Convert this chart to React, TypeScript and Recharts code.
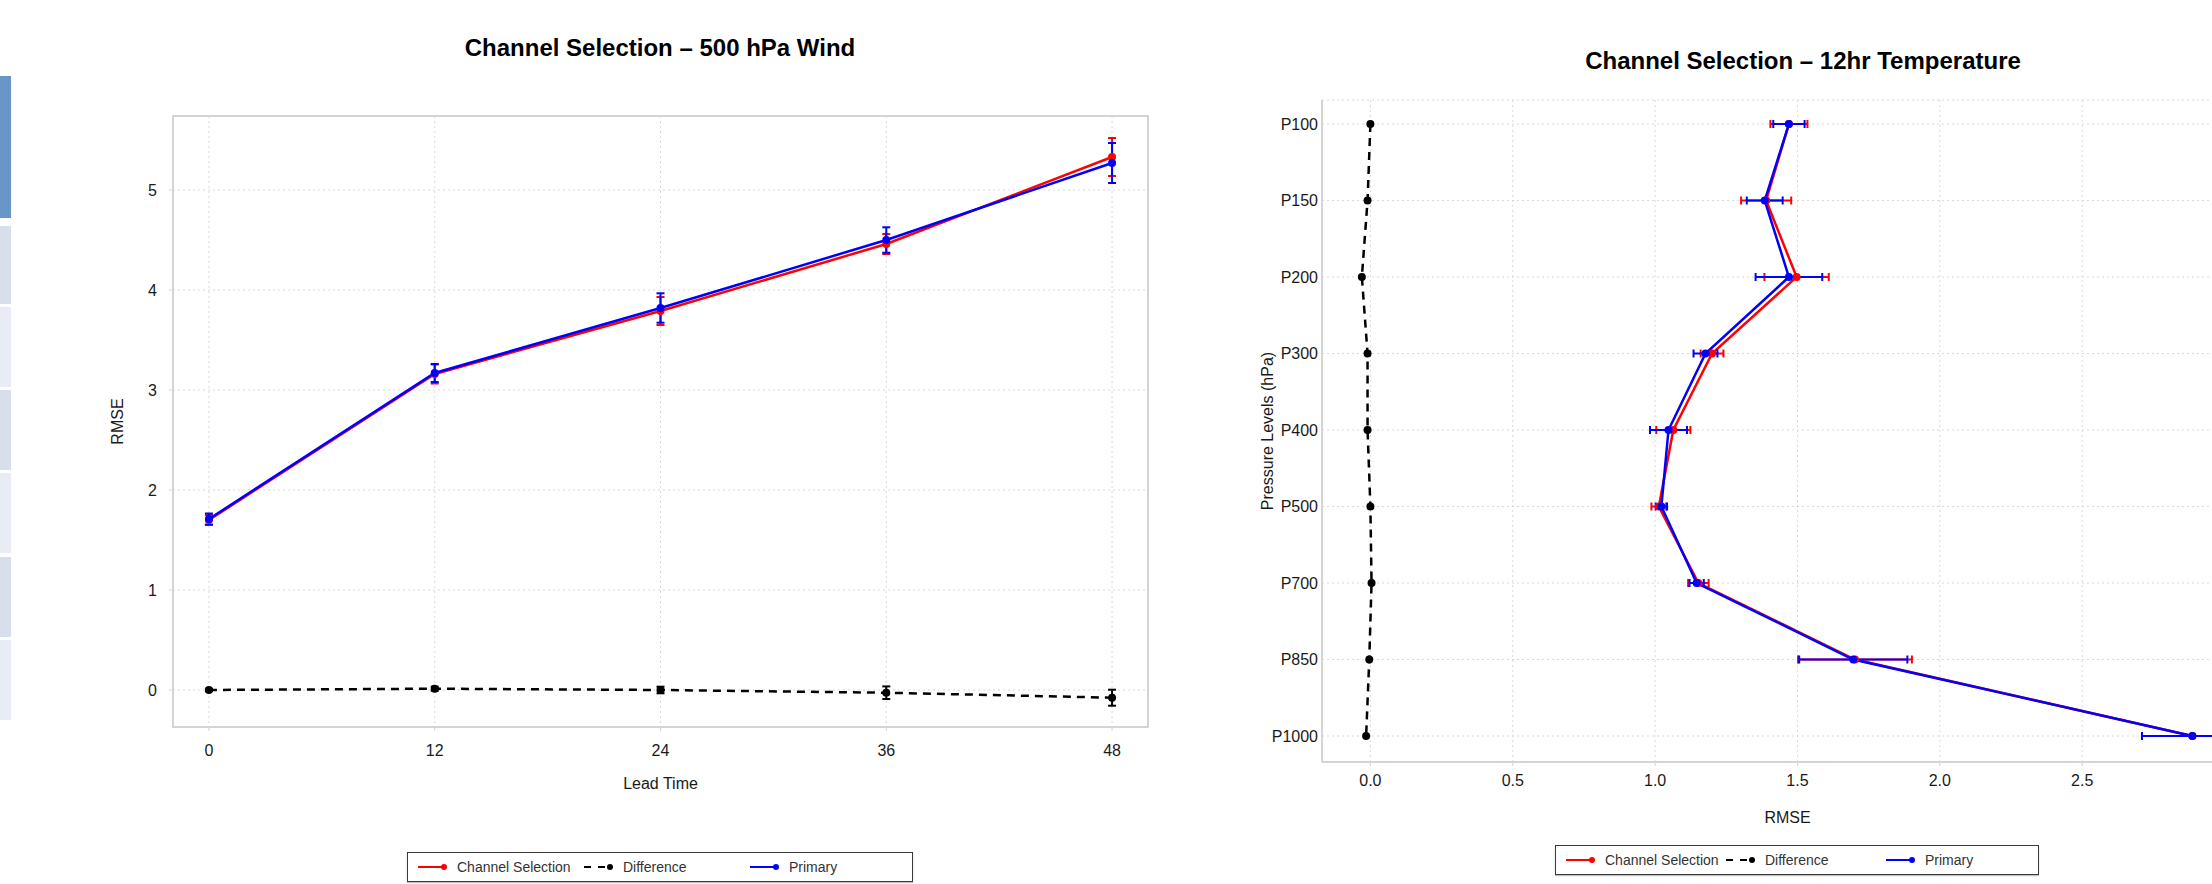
import React from 'react';
import { LineChart, Line, XAxis, YAxis, CartesianGrid, ErrorBar, ReferenceArea, Label } from 'recharts';

const FONT = '"Liberation Sans", Arial, Helvetica, sans-serif';
const RED = '#ff0000';
const BLUE = '#0000ff';
const BLACK = '#000000';
const FRAME = '#d4d4d4';
const GRID = '#d9d9d9';

// left panel: 500 hPa wind by lead time
const leadTimes = [0, 12, 24, 36, 48];
const windChannel = [1.7, 3.16, 3.79, 4.46, 5.33];
const windChannelErr = [0.05, 0.095, 0.14, 0.1, 0.19];
const windPrimary = [1.71, 3.17, 3.82, 4.5, 5.27];
const windPrimaryErr = [0.055, 0.09, 0.147, 0.127, 0.2];
const windDiff = [0.0, 0.013, 0.0, -0.027, -0.077];
const windDiffErr = [0.012, 0.02, 0.033, 0.063, 0.08];
const windYTicks = [0, 1, 2, 3, 4, 5];
const windXDomain = [-1.91, 49.91];
const windYDomain = [-0.37, 5.74];

// right panel: 12hr temperature by pressure level
const levels = ['P100', 'P150', 'P200', 'P300', 'P400', 'P500', 'P700', 'P850', 'P1000'];
const tempChannel = [1.47, 1.39, 1.497, 1.2, 1.064, 1.013, 1.152, 1.702, 2.887];
const tempChannelErr = [0.065, 0.088, 0.113, 0.04, 0.06, 0.026, 0.036, 0.2, 0.177];
const tempPrimary = [1.47, 1.385, 1.47, 1.177, 1.047, 1.022, 1.146, 1.696, 2.887];
const tempPrimaryErr = [0.055, 0.063, 0.117, 0.042, 0.065, 0.02, 0.025, 0.19, 0.177];
const tempDiff = [0.0, -0.01, -0.03, -0.01, -0.01, 0.0, 0.004, -0.004, -0.015];
const tempXTicks = [0, 0.5, 1, 1.5, 2, 2.5];
const tempXDomain = [-0.17, 3.1];

const legendItems = [
  { name: 'Channel Selection', color: RED, dash: undefined as string | undefined },
  { name: 'Difference', color: BLACK, dash: '7 7' },
  { name: 'Primary', color: BLUE, dash: undefined as string | undefined },
];

const sidebarBlocks = [
  { top: 76, height: 142, color: '#6896c8' },
  { top: 226, height: 78, color: '#d9deed' },
  { top: 307, height: 80, color: '#e9ecf4' },
  { top: 390, height: 80, color: '#d9deed' },
  { top: 473, height: 80, color: '#e9ecf4' },
  { top: 557, height: 80, color: '#d9deed' },
  { top: 640, height: 80, color: '#e9ecf4' },
];

const windData = leadTimes.map((lead, i) => ({
  lead,
  cs: windChannel[i],
  csErr: windChannelErr[i],
  diff: windDiff[i],
  diffErr: windDiffErr[i],
  primary: windPrimary[i],
  primaryErr: windPrimaryErr[i],
}));

const tempData = levels.map((level, i) => ({
  level,
  cs: tempChannel[i],
  csErr: tempChannelErr[i],
  diff: tempDiff[i],
  primary: tempPrimary[i],
  primaryErr: tempPrimaryErr[i],
}));

const tickStyle = { fill: '#1a1a1a', fontSize: 16, fontFamily: FONT };
const labelStyle = { fill: '#1a1a1a', fontSize: 16, fontFamily: FONT, textAnchor: 'middle' as const };

const LegendBox = ({ left, top, width, col }: { left: number; top: number; width: number; col: number }) => (
  <div
    style={{
      position: 'absolute',
      left,
      top,
      width,
      height: 30,
      boxSizing: 'border-box',
      border: '1.5px solid #3a3a3a',
      boxShadow: '0 1px 1px rgba(0,0,0,0.25)',
      background: '#fff',
      fontFamily: FONT,
      fontSize: 14,
      color: '#333',
    }}
  >
    {legendItems.map((it, i) => (
      <div
        key={it.name}
        style={{ position: 'absolute', left: 10 + i * col, top: 0, height: 27, display: 'flex', alignItems: 'center' }}
      >
        <svg width={30} height={10} style={{ marginRight: 9 }}>
          <line x1={0} y1={5} x2={26} y2={5} stroke={it.color} strokeWidth={2} strokeDasharray={it.dash} />
          <circle cx={26} cy={5} r={3} fill={it.color} />
        </svg>
        <span>{it.name}</span>
      </div>
    ))}
  </div>
);

const Title = ({ text, cx, top }: { text: string; cx: number; top: number }) => (
  <div
    style={{
      position: 'absolute',
      left: cx - 300,
      width: 600,
      top,
      textAlign: 'center',
      fontFamily: FONT,
      fontWeight: 700,
      fontSize: 24,
      lineHeight: '24px',
      color: '#000',
    }}
  >
    {text}
  </div>
);

const WindChart = () => (
  <div style={{ position: 'absolute', left: 0, top: 0 }}>
    <LineChart width={1200} height={884} data={windData} margin={{ top: 116, right: 52, bottom: 117, left: 103 }}>
      <CartesianGrid stroke={GRID} strokeDasharray="2 3" />
      <ReferenceArea x1={windXDomain[0]} x2={windXDomain[1]} fill="none" stroke={FRAME} strokeWidth={2} />
      <XAxis
        type="number"
        dataKey="lead"
        domain={windXDomain}
        ticks={leadTimes}
        allowDataOverflow
        height={40}
        tickSize={4}
        tickMargin={14}
        tick={tickStyle}
        axisLine={{ stroke: FRAME, strokeWidth: 2 }}
        tickLine={{ stroke: FRAME }}
      >
        <Label value="Lead Time" position="bottom" offset={11} style={labelStyle} />
      </XAxis>
      <YAxis
        type="number"
        domain={windYDomain}
        ticks={windYTicks}
        allowDataOverflow
        width={70}
        tickSize={4}
        tickMargin={12}
        tick={tickStyle}
        axisLine={{ stroke: FRAME, strokeWidth: 2 }}
        tickLine={{ stroke: FRAME }}
      >
        <Label value="RMSE" angle={-90} position="insideLeft" offset={14} style={labelStyle} />
      </YAxis>
      <Line
        dataKey="cs"
        stroke={RED}
        strokeWidth={2.5}
        dot={{ r: 4, fill: RED, stroke: RED, strokeWidth: 0 }}
        isAnimationActive={false}
      >
        <ErrorBar dataKey="csErr" direction="y" stroke={RED} strokeWidth={2} width={4} />
      </Line>
      <Line
        dataKey="diff"
        stroke={BLACK}
        strokeWidth={2.5}
        strokeDasharray="8 6"
        dot={{ r: 4, fill: BLACK, stroke: BLACK, strokeWidth: 0 }}
        isAnimationActive={false}
      >
        <ErrorBar dataKey="diffErr" direction="y" stroke={BLACK} strokeWidth={2} width={4} />
      </Line>
      <Line
        dataKey="primary"
        stroke={BLUE}
        strokeWidth={2.5}
        dot={{ r: 4, fill: BLUE, stroke: BLUE, strokeWidth: 0 }}
        isAnimationActive={false}
      >
        <ErrorBar dataKey="primaryErr" direction="y" stroke={BLUE} strokeWidth={2} width={4} />
      </Line>
    </LineChart>
  </div>
);

const TempChart = () => (
  <div style={{ position: 'absolute', left: 1210, top: 0 }}>
    <LineChart
      width={1100}
      height={884}
      data={tempData}
      layout="vertical"
      margin={{ top: 100, right: 57, bottom: 82, left: 32 }}
    >
      <CartesianGrid stroke={GRID} strokeDasharray="2 3" />
      <XAxis
        type="number"
        domain={tempXDomain}
        ticks={tempXTicks}
        allowDataOverflow
        height={40}
        tickSize={4}
        tickMargin={9}
        tick={tickStyle}
        tickFormatter={(v: number) => v.toFixed(1)}
        axisLine={{ stroke: FRAME, strokeWidth: 2 }}
        tickLine={{ stroke: FRAME }}
      >
        <Label value="RMSE" position="bottom" offset={10} style={labelStyle} />
      </XAxis>
      {/* top edge of the frame */}
      <XAxis
        xAxisId="top"
        orientation="top"
        type="number"
        domain={tempXDomain}
        allowDataOverflow
        height={0}
        tick={false}
        tickLine={false}
        axisLine={{ stroke: FRAME, strokeWidth: 2 }}
      />
      <YAxis
        type="category"
        dataKey="level"
        width={80}
        padding={{ top: 24, bottom: 26 }}
        tickSize={0}
        tickMargin={4}
        tick={tickStyle}
        axisLine={{ stroke: FRAME, strokeWidth: 2 }}
        tickLine={false}
      >
        <Label value="Pressure Levels (hPa)" angle={-90} position="insideLeft" offset={25} style={labelStyle} />
      </YAxis>
      <Line
        dataKey="cs"
        stroke={RED}
        strokeWidth={2.5}
        dot={{ r: 4, fill: RED, stroke: RED, strokeWidth: 0 }}
        isAnimationActive={false}
      >
        <ErrorBar dataKey="csErr" direction="x" stroke={RED} strokeWidth={2} width={4} />
      </Line>
      <Line
        dataKey="diff"
        stroke={BLACK}
        strokeWidth={2.5}
        strokeDasharray="8 6"
        dot={{ r: 4, fill: BLACK, stroke: BLACK, strokeWidth: 0 }}
        isAnimationActive={false}
      />
      <Line
        dataKey="primary"
        stroke={BLUE}
        strokeWidth={2.5}
        dot={{ r: 4, fill: BLUE, stroke: BLUE, strokeWidth: 0 }}
        isAnimationActive={false}
      >
        <ErrorBar dataKey="primaryErr" direction="x" stroke={BLUE} strokeWidth={2} width={4} />
      </Line>
    </LineChart>
  </div>
);

export default function App() {
  return (
    <div
      style={{
        position: 'absolute',
        left: 0,
        top: 0,
        width: 2212,
        height: 884,
        overflow: 'hidden',
        background: '#fff',
        fontFamily: FONT,
      }}
    >
      {sidebarBlocks.map((b) => (
        <div
          key={b.top}
          style={{ position: 'absolute', left: 0, top: b.top, width: 11, height: b.height, background: b.color }}
        />
      ))}
      <Title text="Channel Selection – 500 hPa Wind" cx={660} top={36} />
      <Title text="Channel Selection – 12hr Temperature" cx={1803} top={49} />
      <WindChart />
      <TempChart />
      <LegendBox left={407} top={852} width={506} col={166} />
      <LegendBox left={1555} top={845} width={484} col={160} />
    </div>
  );
}
